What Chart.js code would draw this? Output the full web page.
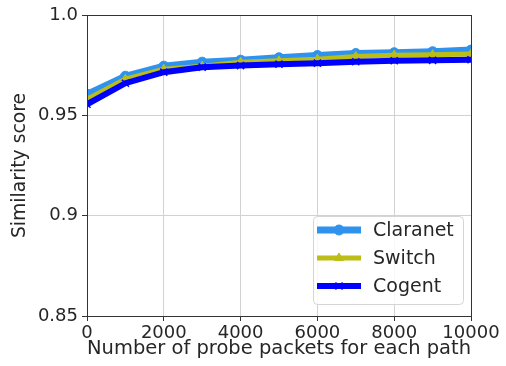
<!DOCTYPE html>
<html>
<head>
<meta charset="utf-8">
<script src="https://cdn.jsdelivr.net/npm/chart.js@4/dist/chart.umd.min.js"></script>
<style>
  body { margin: 0; background: #fff; }
  #wrap { width: 506px; height: 366px; }
</style>
</head>
<body>
<div id="wrap"><canvas id="simChart" width="506" height="366"></canvas></div>
<script>
const probes = [0, 1000, 2000, 3000, 4000, 5000, 6000, 7000, 8000, 9000, 10000];
const claranet = [0.9605, 0.9695, 0.9745, 0.9765, 0.9775, 0.9787, 0.9798, 0.9808, 0.9812, 0.9817, 0.9825];
const switchNet = [0.958, 0.968, 0.973, 0.9745, 0.9765, 0.9772, 0.978, 0.9793, 0.980, 0.9802, 0.9806];
const cogent = [0.9555, 0.966, 0.9715, 0.974, 0.9748, 0.9755, 0.976, 0.9767, 0.9772, 0.9774, 0.9777];
const xTicks = [0, 2000, 4000, 6000, 8000, 10000];
const yTicks = [0.85, 0.9, 0.95, 1.0];

Chart.defaults.font.family = "'DejaVu Sans', sans-serif";
Chart.defaults.font.size = 18;
Chart.defaults.color = "#262626";

function toPoints(ys) {
  return probes.map((x, i) => ({ x: x, y: ys[i] }));
}

// matplotlib-like full frame round the plot
const framePlugin = {
  id: "frame",
  afterDatasetsDraw(chart) {
    const a = chart.chartArea;
    const c = chart.ctx;
    c.save();
    c.strokeStyle = "#333";
    c.lineWidth = 1;
    c.strokeRect(Math.round(a.left) + 0.5, Math.round(a.top) + 0.5,
      Math.round(a.right - a.left), Math.round(a.bottom - a.top));
    c.restore();
  }
};

// legend box in the lower right, line + marker like matplotlib
const legendPlugin = {
  id: "boxLegend",
  afterDraw(chart) {
    const a = chart.chartArea;
    const c = chart.ctx;
    const w = 150, h = 88;
    const x0 = a.right - 8 - w, y0 = a.bottom - 12 - h;
    c.save();
    c.fillStyle = "rgba(255,255,255,0.85)";
    c.strokeStyle = "#d5d5d5";
    c.lineWidth = 1;
    c.beginPath();
    c.roundRect(x0 + 0.5, y0 + 0.5, w, h, 4);
    c.fill();
    c.stroke();
    chart.data.datasets.forEach((ds, i) => {
      const y = y0 + 14 + i * 28;
      c.strokeStyle = ds.borderColor;
      c.lineWidth = ds.borderWidth;
      c.beginPath();
      c.moveTo(x0 + 4, y);
      c.lineTo(x0 + 48, y);
      c.stroke();
      c.fillStyle = ds.backgroundColor;
      c.lineWidth = ds.pointBorderWidth;
      Chart.helpers.drawPoint(c, {
        pointStyle: ds.pointStyle,
        radius: ds.pointRadius,
        borderWidth: ds.pointBorderWidth,
        rotation: 0
      }, x0 + 26, y);
      c.fillStyle = "#262626";
      c.font = "19px 'DejaVu Sans'";
      c.textBaseline = "middle";
      c.fillText(ds.label, x0 + 60, y + 1);
    });
    c.restore();
  }
};

const ctx = document.getElementById("simChart").getContext("2d");
new Chart(ctx, {
  type: "line",
  data: {
    datasets: [{
      label: "Claranet",
      data: toPoints(claranet),
      borderColor: "#2f93ee",
      backgroundColor: "#2f93ee",
      borderWidth: 7,
      pointStyle: "circle",
      pointRadius: 5,
      pointBorderWidth: 1,
      order: 3,
      clip: 0
    }, {
      label: "Switch",
      data: toPoints(switchNet),
      borderColor: "#bcbd16",
      backgroundColor: "#bcbd16",
      borderWidth: 5,
      pointStyle: "triangle",
      pointRadius: 5,
      pointBorderWidth: 1,
      order: 2,
      clip: 0
    }, {
      label: "Cogent",
      data: toPoints(cogent),
      borderColor: "#0000ff",
      backgroundColor: "#0000ff",
      borderWidth: 6,
      pointStyle: "crossRot",
      pointRadius: 5,
      pointBorderWidth: 1.5,
      order: 1,
      clip: 0
    }]
  },
  options: {
    responsive: false,
    animation: false,
    layout: { padding: { left: 0, right: 35, top: 15, bottom: 0 } },
    plugins: {
      legend: { display: false },
      tooltip: { enabled: false }
    },
    scales: {
      x: {
        type: "linear",
        min: 0,
        max: 10000,
        afterBuildTicks: (s) => { s.ticks = xTicks.map(v => ({ value: v })); },
        afterFit: (s) => { s.height = 50; },
        ticks: { maxRotation: 0, autoSkip: false, padding: 2, callback: (v) => String(v) },
        grid: { color: "#d2d2d2", tickColor: "#333", tickLength: 5, lineWidth: 1 },
        border: { display: false },
        title: { display: true, text: "Number of probe packets for each path", font: { size: 19.8 }, padding: { top: 0, bottom: 5 } }
      },
      y: {
        min: 0.85,
        max: 1.0,
        afterBuildTicks: (s) => { s.ticks = yTicks.map(v => ({ value: v })); },
        afterFit: (s) => { s.width = 87; },
        ticks: { padding: 4, callback: (v) => (v === 1 ? "1.0" : String(+v.toFixed(2))) },
        grid: { color: "#d2d2d2", tickColor: "#333", tickLength: 5, lineWidth: 1 },
        border: { display: false },
        title: { display: true, text: "Similarity score", font: { size: 18.8 }, padding: { top: 9, bottom: 0 } }
      }
    }
  },
  plugins: [framePlugin, legendPlugin]
});
</script>
</body>
</html>
